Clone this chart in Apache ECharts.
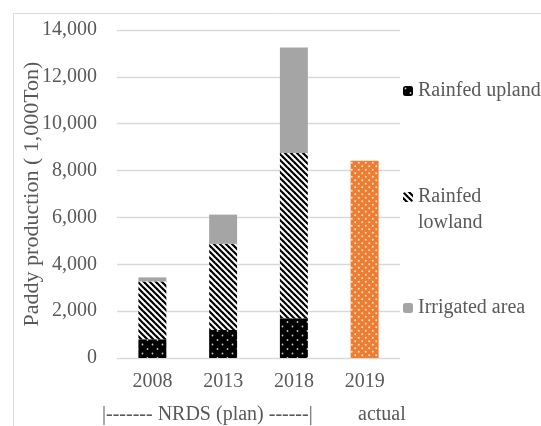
<!DOCTYPE html>
<html>
<head>
<meta charset="utf-8">
<script src="https://cdn.jsdelivr.net/npm/echarts@6/dist/echarts.min.js"></script>
<style>
  html, body { margin: 0; padding: 0; background: #fff; }
  #chart { width: 541px; height: 426px; }
</style>
</head>
<body>
<div id="chart"></div>
<script>
// Paddy production by ecosystem (1,000 Ton)
const categories = ['2008', '2013', '2018', '2019'];
const upland = [800, 1200, 1700, null];
const lowland = [2470, 3670, 7050, null];
const irrigated = [170, 1250, 4500, null];
const actual = [null, null, null, 8420];
const yTicks = { min: 0, max: 14000, interval: 2000 };

const FONT = '"Liberation Serif", "Times New Roman", serif';
const TEXT = '#595959';

// Fill patterns drawn on small canvases
function tile(w, h, draw) {
  const c = document.createElement('canvas');
  c.width = w; c.height = h;
  draw(c.getContext('2d'));
  return { image: c, repeat: 'repeat' };
}
const dotsDark = tile(10, 9, g => {
  g.fillStyle = '#000'; g.fillRect(0, 0, 10, 9);
  g.fillStyle = '#c8c8c8';
  g.beginPath(); g.arc(2.5, 2.5, 0.9, 0, Math.PI * 2); g.fill();
  g.beginPath(); g.arc(7.5, 7, 0.9, 0, Math.PI * 2); g.fill();
});
// "\" diagonal stripes, seamless on a square tile
const stripes = tile(6, 6, g => {
  g.fillStyle = '#fff'; g.fillRect(0, 0, 6, 6);
  g.strokeStyle = '#000'; g.lineWidth = 2.2;
  for (const k of [-6, 0, 6]) {
    g.beginPath(); g.moveTo(k - 1, -1); g.lineTo(k + 7, 7); g.stroke();
  }
});
const dotsOrange = tile(7, 7, g => {
  g.fillStyle = '#ED7D31'; g.fillRect(0, 0, 7, 7);
  g.fillStyle = '#fbe3d2';
  g.beginPath(); g.arc(1.75, 1.75, 1.0, 0, Math.PI * 2); g.fill();
  g.beginPath(); g.arc(5.25, 5.25, 1.0, 0, Math.PI * 2); g.fill();
});

const chart = echarts.init(document.getElementById('chart'), null, { renderer: 'canvas' });

function legendItem(name, top) {
  return {
    data: [name], left: 403, top: top, padding: 0,
    itemWidth: 10, itemHeight: 10, itemGap: 0,
    selectedMode: false,
    formatter: n => n === 'Rainfed lowland' ? 'Rainfed' : n,
    textStyle: { fontFamily: FONT, fontSize: 20, color: TEXT, padding: [0, 0, 0, 0] }
  };
}

chart.setOption({
  animation: false,
  backgroundColor: '#fff',
  grid: { left: 117, right: 141, top: 30, bottom: 68 },
  legend: [
    legendItem('Rainfed upland', 81),
    legendItem('Rainfed lowland', 187),
    legendItem('Irrigated area', 298)
  ],
  xAxis: {
    type: 'category',
    data: categories,
    axisLine: { show: false },
    axisTick: { show: false },
    axisLabel: { fontFamily: FONT, fontSize: 20, color: TEXT, margin: 14 }
  },
  yAxis: {
    type: 'value',
    min: yTicks.min, max: yTicks.max, interval: yTicks.interval,
    name: 'Paddy production ( 1,000Ton)',
    nameLocation: 'middle',
    nameGap: 74,
    nameMoveOverlap: false,
    nameTextStyle: { fontFamily: FONT, fontSize: 22, color: TEXT },
    axisLabel: {
      fontFamily: FONT, fontSize: 20, color: TEXT, margin: 20,
      formatter: v => v.toLocaleString('en-US')
    },
    splitLine: { lineStyle: { color: '#d9d9d9', width: 1.3 } }
  },
  series: [
    { name: 'Rainfed upland', type: 'bar', stack: 'total', barWidth: '39.5%', data: upland, itemStyle: { color: dotsDark } },
    { name: 'Rainfed lowland', type: 'bar', stack: 'total', data: lowland, itemStyle: { color: stripes } },
    { name: 'Irrigated area', type: 'bar', stack: 'total', data: irrigated, itemStyle: { color: '#A5A5A5' } },
    { name: 'actual', type: 'bar', stack: 'total', data: actual, itemStyle: { color: dotsOrange } }
  ],
  graphic: [
    { type: 'rect', shape: { x: 13.5, y: 13.5, width: 700, height: 600 }, style: { fill: 'none', stroke: '#d9d9d9', lineWidth: 1 }, silent: true },
    { type: 'text', x: 418, y: 223, style: { text: 'lowland', font: '20px ' + FONT, fill: TEXT, verticalAlign: 'middle' } },
    { type: 'text', x: 102, y: 415, style: { text: '|------- NRDS (plan) ------|', font: '20px ' + FONT, fill: TEXT, verticalAlign: 'middle' } },
    { type: 'text', x: 358, y: 415, style: { text: 'actual', font: '20px ' + FONT, fill: TEXT, verticalAlign: 'middle' } }
  ]
});
</script>
</body>
</html>
